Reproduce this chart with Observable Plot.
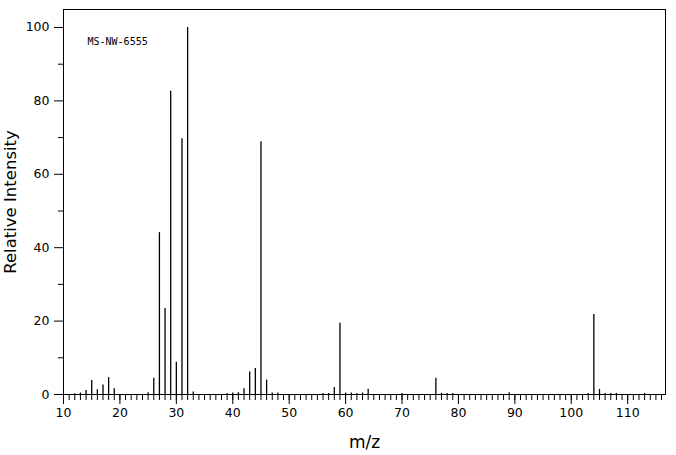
<!DOCTYPE html>
<html>
<head>
<meta charset="utf-8">
<script src="https://cdn.jsdelivr.net/npm/d3@7"></script>
<script src="https://cdn.jsdelivr.net/npm/@observablehq/plot@0.6"></script>
<style>
  html, body { margin: 0; padding: 0; background: #fff; }
  svg { display: block; }
</style>
</head>
<body>
<div id="chart"></div>
<script>
// m/z values of the peaks
const mz = [12, 13, 14, 15, 16, 17, 18, 19, 25, 26, 27, 28, 29, 30, 31, 32, 33,
  39, 40, 41, 42, 43, 44, 45, 46, 47, 48, 56, 57, 58, 59, 60, 61, 62, 63, 64,
  70, 76, 77, 78, 79, 89, 103, 104, 105, 106, 107, 108, 113];
// relative intensities (%)
const intensity = [0.2, 0.4, 1.1, 3.8, 1.3, 2.6, 4.6, 1.6, 0.5, 4.4, 44.1, 23.4, 82.6, 8.8, 69.7, 100, 0.7,
  0.3, 0.4, 0.5, 1.6, 6.1, 7.1, 68.9, 3.9, 0.4, 0.4, 0.3, 0.3, 1.9, 19.4, 0.4, 0.4, 0.3, 0.4, 1.4,
  0.3, 4.4, 0.3, 0.3, 0.3, 0.5, 0.3, 21.8, 1.4, 0.3, 0.3, 0.3, 0.3];
const xMajorTicks = [10, 20, 30, 40, 50, 60, 70, 80, 90, 100, 110];
const xMinorTicks = d3.range(10, 117, 1);
const yMajorTicks = [0, 20, 40, 60, 80, 100];
const yMinorTicks = [10, 30, 50, 70, 90];
const sampleId = "MS-NW-6555";
const xTitle = "m/z";
const yTitle = "Relative Intensity";

const peaks = mz.map((m, i) => ({mz: m, intensity: intensity[i]}));

const chart = Plot.plot({
  width: 676,
  height: 455,
  marginLeft: 63,
  marginRight: 11,
  marginTop: 9,
  marginBottom: 61,
  style: {fontFamily: "DejaVu Sans", fontSize: "12.5px", color: "#000", background: "#fff"},
  x: {domain: [10, 116.7]},
  y: {domain: [0, 104.9]},
  marks: [
    Plot.axisX(xMinorTicks, {tickSize: 6, text: null, label: null}),
    Plot.axisX(xMajorTicks, {tickSize: 10, tickPadding: 4, label: null, fontSize: 12.5}),
    Plot.axisY(yMinorTicks, {tickSize: 5, text: null, label: null}),
    Plot.axisY(yMajorTicks, {tickSize: 9, tickPadding: 5, label: null, fontSize: 12.5}),
    Plot.ruleX(peaks, {x: "mz", y1: 0, y2: "intensity", stroke: "#000", strokeWidth: 1.3}),
    Plot.frame({stroke: "#000", strokeWidth: 1}),
    Plot.text([sampleId], {frameAnchor: "top-left", dx: 24, dy: 32, textAnchor: "start",
      lineAnchor: "middle", fontFamily: "DejaVu Sans Mono", fontSize: 10, fill: "#000"}),
    Plot.text([xTitle], {frameAnchor: "bottom", dy: 48, textAnchor: "middle", lineAnchor: "middle",
      fontSize: 17, fill: "#000", letterSpacing: "3px"}),
    Plot.text([yTitle], {frameAnchor: "left", dx: -53, rotate: -90, textAnchor: "middle",
      lineAnchor: "middle", fontSize: 16.5, fill: "#000"})
  ]
});
document.getElementById("chart").appendChild(chart);
</script>
</body>
</html>
